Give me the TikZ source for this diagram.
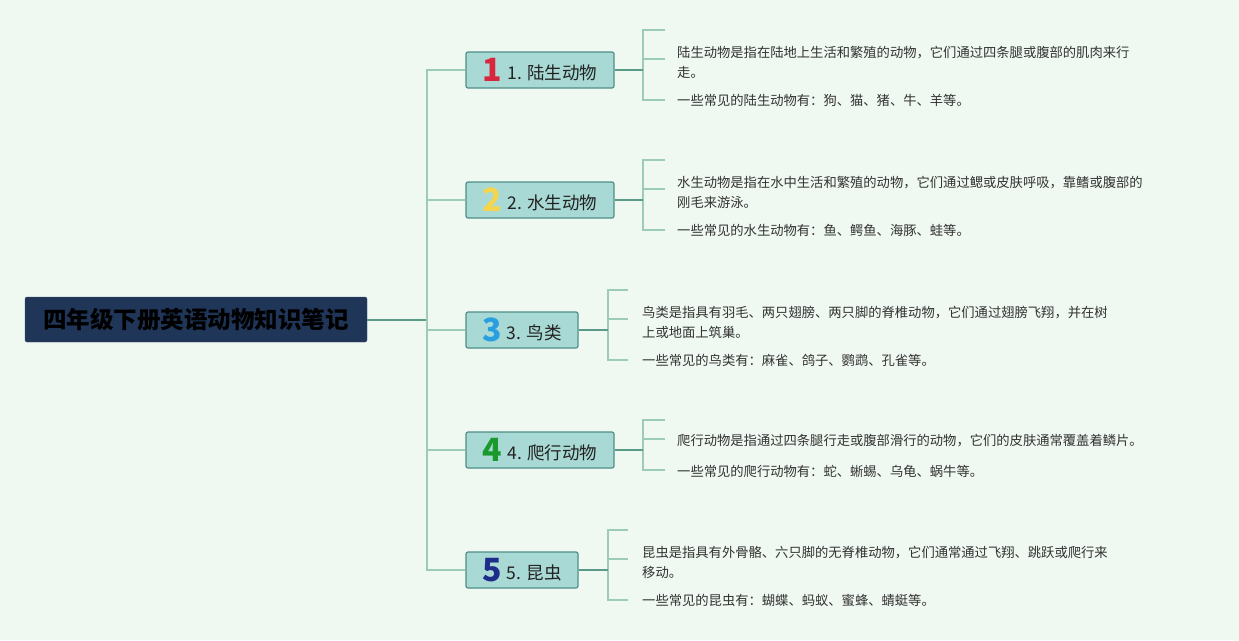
\documentclass[tikz,border=0pt]{standalone}
\usepackage{fontspec}
\usepackage{xcolor}
\usetikzlibrary{positioning}
\newfontfamily\cjk{Noto Sans CJK SC}
\definecolor{bgmint}{HTML}{EFF8F1}
\definecolor{rootblue}{HTML}{1F3658}
\definecolor{branchfill}{HTML}{A8D9D4}
\definecolor{branchedge}{HTML}{4F8F87}
\definecolor{linedark}{HTML}{5B9A89}
\definecolor{linelight}{HTML}{9CCCB8}
\definecolor{textgray}{HTML}{333333}
\definecolor{textdark}{HTML}{222222}
\definecolor{numred}{HTML}{D7263D}
\definecolor{numyellow}{HTML}{F4D54E}
\definecolor{numblue}{HTML}{2A9FE0}
\definecolor{numgreen}{HTML}{1A9A2C}
\definecolor{numnavy}{HTML}{1E2C8A}
\newcommand{\numglyph}[2]{\raisebox{-2pt}{\cjk\bfseries\fontsize{32}{32}\selectfont\color{#1}#2}\hspace{5pt}}

\begin{document}
\begin{tikzpicture}[x=1pt, y=-1pt,
	root/.style={draw=rootblue!85!white, fill=rootblue, rounded corners=2pt, minimum width=342pt, minimum height=45pt, inner sep=0pt, font=\cjk\bfseries\fontsize{23.5}{23.5}\selectfont, text=black},
	branch/.style={draw=branchedge, fill=branchfill, line width=1.2pt, rounded corners=2pt, minimum height=36pt, inner sep=0pt, font=\cjk\fontsize{17.5}{17.5}\selectfont, text=textdark},
	leaf/.style={anchor=west, align=left, inner sep=0pt, font=\cjk\fontsize{13.3}{20}\selectfont, text=textgray},
	mainline/.style={draw=linedark, line width=2pt},
	stemline/.style={draw=linelight, line width=1.5pt}]
						% background and page size
						\useasboundingbox[fill=bgmint] (0,0) rectangle (1239,640);
						% draw root
						\node[root] (root) at (196,319.5) {四年级下册英语动物知识笔记};
						\coordinate (hub) at (427,319.5);
						% draw branches
						\node[branch, minimum width=148pt] (b1) at (540,70) {\numglyph{numred}{1}1. 陆生动物};
						\node[branch, minimum width=148pt] (b2) at (540,200) {\numglyph{numyellow}{2}2. 水生动物};
						\node[branch, minimum width=112pt] (b3) at (522,330) {\numglyph{numblue}{3}3. 鸟类};
						\node[branch, minimum width=148pt] (b4) at (540,450) {\numglyph{numgreen}{4}4. 爬行动物};
						\node[branch, minimum width=112pt] (b5) at (522,570) {\numglyph{numnavy}{5}5. 昆虫};
						% draw trunk
						\draw[mainline] (root.east) -- (hub);
						\draw[stemline] (b1.west) -- (b1.west -| hub) -- (b5.west -| hub) -- (b5.west);
						\draw[stemline] (b2.west) -- (b2.west -| hub);
						\draw[stemline] (b3.west) -- (b3.west -| hub);
						\draw[stemline] (b4.west) -- (b4.west -| hub);
						
						% branch 1
						\node[leaf] (l11) at (677,62) {陆生动物是指在陆地上生活和繁殖的动物，它们通过四条腿或腹部的肌肉来行\\走。};
						\node[leaf] (l12) at (677,100) {一些常见的陆生动物有：狗、猫、猪、牛、羊等。};
						\coordinate (k1) at (643,70);
						\draw[stemline] (665,30) -- (643,30) -- (643,100) -- (665,100);
						\draw[stemline] (643,59) -- (665,59);
						\draw[mainline] (b1.east) -- (k1);
						
						% branch 2
						\node[leaf] (l21) at (677,192) {水生动物是指在水中生活和繁殖的动物，它们通过鳃或皮肤呼吸，靠鳍或腹部的\\刚毛来游泳。};
						\node[leaf] (l22) at (677,230) {一些常见的水生动物有：鱼、鳄鱼、海豚、蛙等。};
						\coordinate (k2) at (643,200);
						\draw[stemline] (665,160) -- (643,160) -- (643,230) -- (665,230);
						\draw[stemline] (643,189) -- (665,189);
						\draw[mainline] (b2.east) -- (k2);
						
						% branch 3
						\node[leaf] (l31) at (642,322) {鸟类是指具有羽毛、两只翅膀、两只脚的脊椎动物，它们通过翅膀飞翔，并在树\\上或地面上筑巢。};
						\node[leaf] (l32) at (642,360) {一些常见的鸟类有：麻雀、鸽子、鹦鹉、孔雀等。};
						\coordinate (k3) at (608,330);
						\draw[stemline] (628,290) -- (608,290) -- (608,360) -- (628,360);
						\draw[stemline] (608,319) -- (628,319);
						\draw[mainline] (b3.east) -- (k3);
						
						% branch 4
						\node[leaf] (l41) at (677,441) {爬行动物是指通过四条腿行走或腹部滑行的动物，它们的皮肤通常覆盖着鳞片。};
						\node[leaf] (l42) at (677,471) {一些常见的爬行动物有：蛇、蜥蜴、乌龟、蜗牛等。};
						\coordinate (k4) at (643,450);
						\draw[stemline] (665,420) -- (643,420) -- (643,470) -- (665,470);
						\draw[stemline] (643,439) -- (665,439);
						\draw[mainline] (b4.east) -- (k4);
						
						% branch 5
						\node[leaf] (l51) at (642,562) {昆虫是指具有外骨骼、六只脚的无脊椎动物，它们通常通过飞翔、跳跃或爬行来\\移动。};
						\node[leaf] (l52) at (642,600) {一些常见的昆虫有：蝴蝶、蚂蚁、蜜蜂、蜻蜓等。};
						\coordinate (k5) at (608,570);
						\draw[stemline] (628,530) -- (608,530) -- (608,600) -- (628,600);
						\draw[stemline] (608,559) -- (628,559);
						\draw[mainline] (b5.east) -- (k5);
					\end{tikzpicture}
\end{document}
